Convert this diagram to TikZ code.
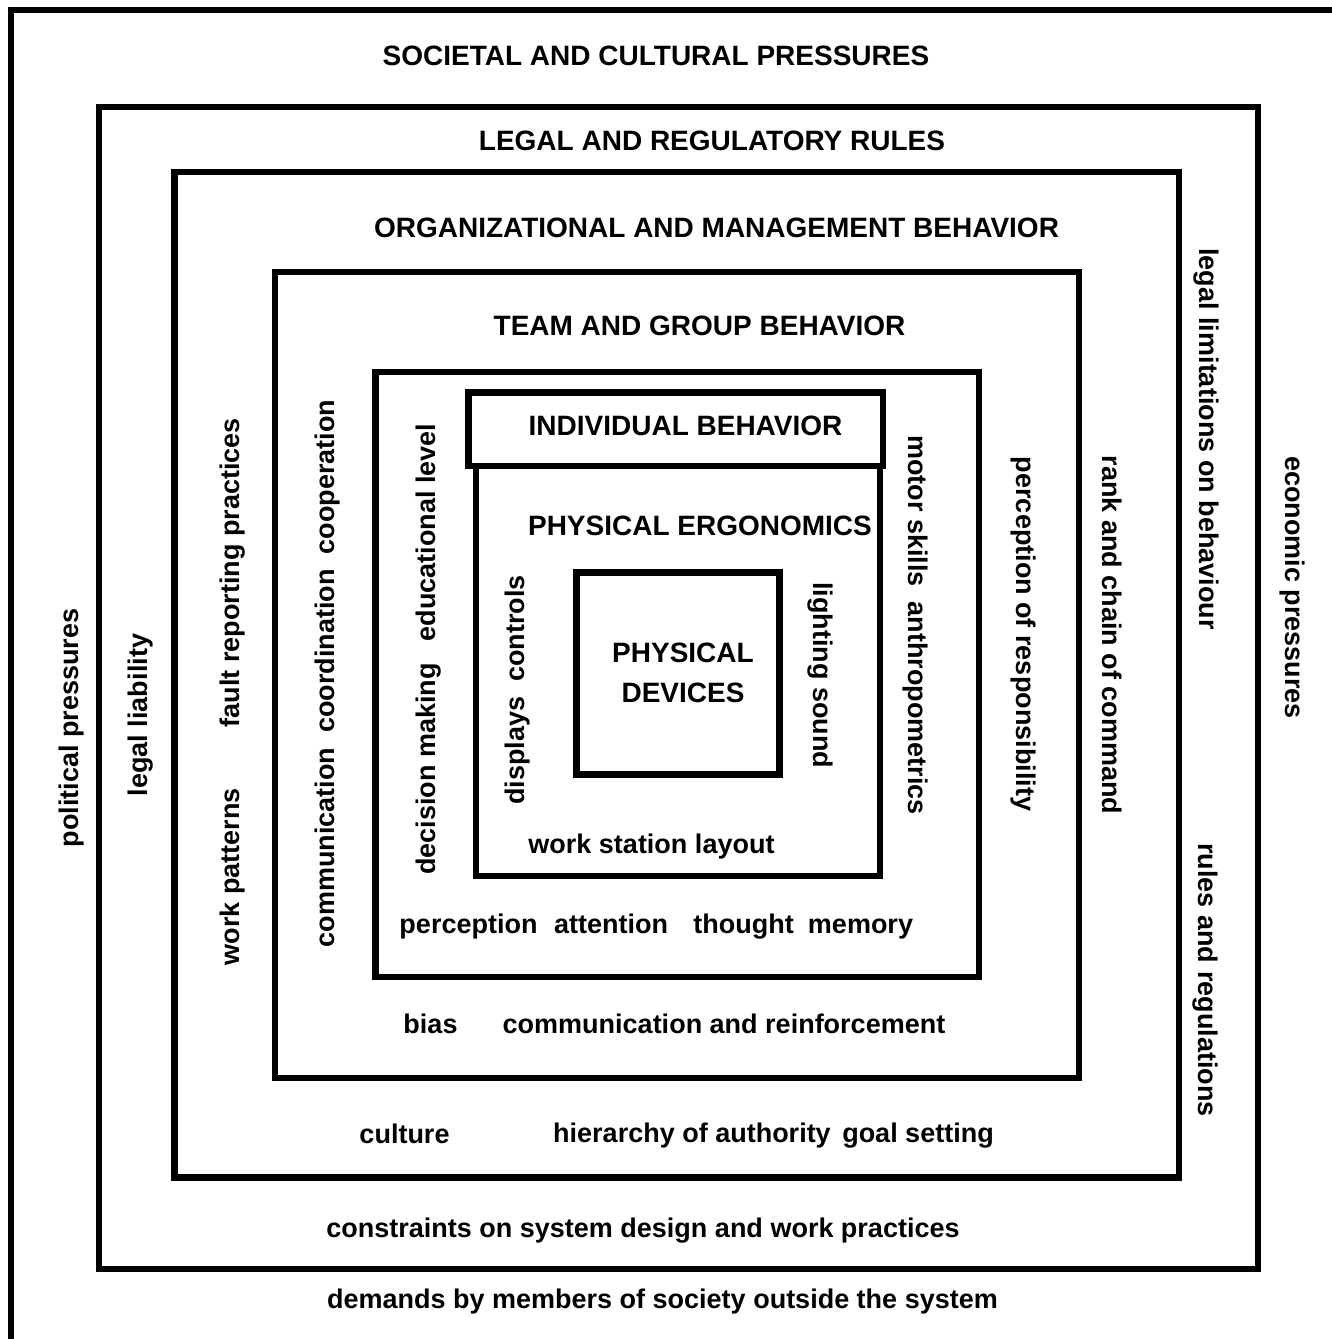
\documentclass[tikz,border=0pt]{standalone}
\usepackage{fontspec}
\setmainfont{Liberation Sans}

\begin{document}
\begin{tikzpicture}[x=1pt, y=-1pt,
    frame/.style={line width=6.5pt},
    txt/.style={font=\bfseries\fontsize{27}{32}\selectfont, anchor=base, inner sep=0pt},
    head/.style={txt, font=\bfseries\fontsize{28}{33}\selectfont},
    txtup/.style={txt, rotate=90},
    txtdown/.style={txt, rotate=-90}]
        \useasboundingbox (0,0) rectangle (1332,1339);

        % nested frames
        \draw[frame] (11,1345) -- (11,10) -- (1340,10);
        \draw[frame] (99,107) rectangle (1258,1269);
        \draw[frame] (174.5,172) rectangle (1179,1177.5);
        \draw[frame] (275,272) rectangle (1079,1078);
        \draw[frame] (375.5,372) rectangle (979,977);
        \draw[frame] (468.5,392.5) rectangle (883,466);
        \draw[frame] (476,466) rectangle (880,876);
        \draw[frame] (576.5,572.5) rectangle (779.5,774.5);

        % headings
        \node[head] at (656, 65.5)(societal){SOCIETAL AND CULTURAL PRESSURES};
        \node[head] at (712, 150)(legal){LEGAL AND REGULATORY RULES};
        \node[head] at (716.5, 237)(organ){ORGANIZATIONAL AND MANAGEMENT BEHAVIOR};
        \node[head] at (699.5, 335)(team){TEAM AND GROUP BEHAVIOR};
        \node[head] at (685.5, 435)(indiv){INDIVIDUAL BEHAVIOR};
        \node[head] at (700, 535)(ergo){PHYSICAL ERGONOMICS};
        \node[head] at (683, 662)(phys){PHYSICAL};
        \node[head] at (683, 702)(devices){DEVICES};

        % horizontal labels
        \node[txt] at (651.5, 853)(layout){work station layout};
        \node[txt] at (468.5, 933)(percep){perception};
        \node[txt] at (611, 933)(attent){attention};
        \node[txt] at (743.5, 933)(thought){thought};
        \node[txt] at (860.5, 933)(memory){memory};
        \node[txt] at (430.5, 1033)(bias){bias};
        \node[txt] at (724, 1033)(reinf){communication and reinforcement};
        \node[txt] at (404.5, 1143)(culture){culture};
        \node[txt] at (692, 1142)(hier){hierarchy of authority};
        \node[txt] at (918, 1142)(goal){goal setting};
        \node[txt] at (643, 1237)(constr){constraints on system design and work practices};
        \node[txt] at (662.5, 1308)(demands){demands by members of society outside the system};

        % left side, reading upwards
        \node[txtup] at (78, 728)(political){political pressures};
        \node[txtup] at (147, 715)(liability){legal liability};
        \node[txtup] at (239, 572.5)(fault){fault reporting practices};
        \node[txtup] at (239, 876.5)(workpat){work patterns};
        \node[txtup] at (334, 673.5)(commun){communication\ \ coordination\ \ cooperation};
        \node[txtup] at (435, 769)(decision){decision making};
        \node[txtup] at (435, 532.5)(educ){educational level};
        \node[txtup] at (524, 690)(displays){displays\ \ controls};

        % right side, reading downwards
        \node[txtdown] at (813, 675)(lighting){lighting sound};
        \node[txtdown] at (908, 625)(motor){motor skills\ \ anthropometrics};
        \node[txtdown] at (1016, 634)(respons){perception of responsibility};
        \node[txtdown] at (1102, 635)(rank){rank and chain of command};
        \node[txtdown] at (1199, 439)(limits){legal limitations on behaviour};
        \node[txtdown] at (1198.5, 980)(rules){rules and regulations};
        \node[txtdown] at (1285, 587.5)(economic){economic pressures};
    \end{tikzpicture}
\end{document}
